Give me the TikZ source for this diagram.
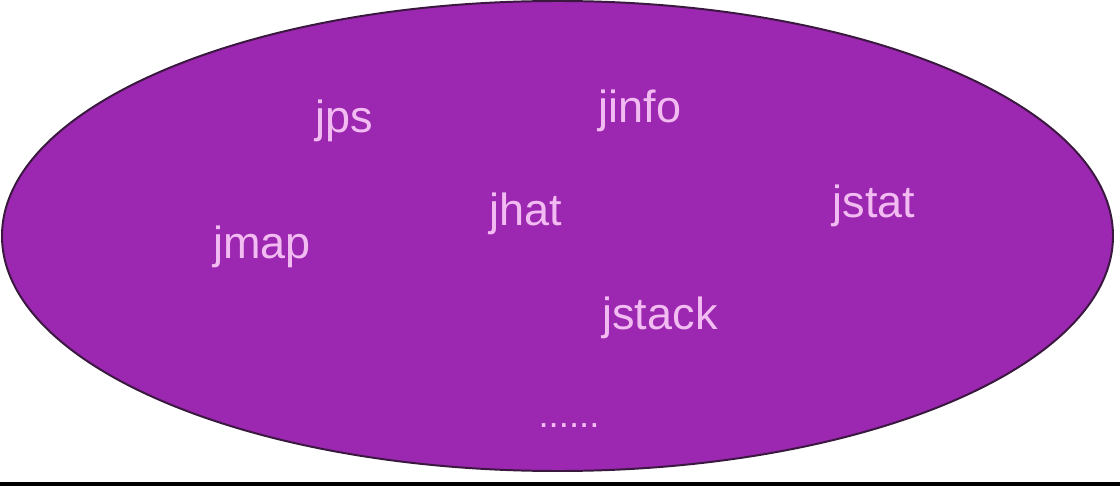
\documentclass[tikz,border=0pt]{standalone}
\usepackage{fontspec}
\setmainfont{Liberation Sans}
\definecolor{toolpurple}{HTML}{9C27B0}
\definecolor{toolink}{HTML}{F2BCF2}
\definecolor{tooledge}{HTML}{3A1840}

\begin{document}
\begin{tikzpicture}[x=0.025cm,y=-0.025cm,
  tool/.style={text=toolink,anchor=base,inner sep=0pt,font=\fontsize{32}{38}\selectfont}]
\useasboundingbox (0,0) rectangle (1120,486);
\fill[white] (0,0) rectangle (1120,486);
\draw[fill=toolpurple,draw=tooledge,line width=1.4pt] (557.5,236) ellipse (555.5 and 235);
\fill[black] (0,482) rectangle (1120,486);
\foreach \name/\x/\y in {jps/344/133,jinfo/640/123,jhat/526/225,jstat/874/217,jmap/262/258,jstack/660/329}{
  \node[tool] (\name) at (\x,\y) {\name};
}
\node[tool,font=\fontsize{26}{30}\selectfont] (more) at (569,427) {......};
\end{tikzpicture}
\end{document}
